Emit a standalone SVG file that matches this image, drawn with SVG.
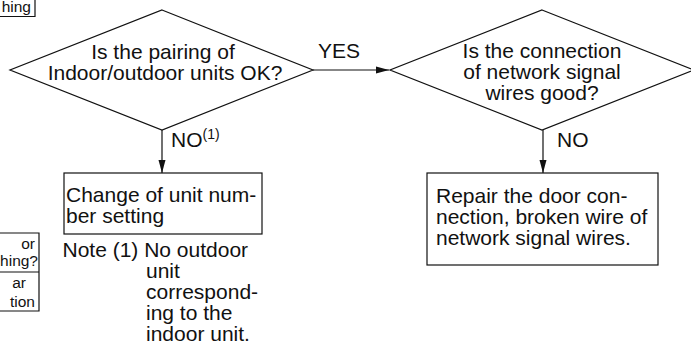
<svg xmlns="http://www.w3.org/2000/svg" width="691" height="349" viewBox="0 0 691 349">
<defs>
<style>
.s{fill:none;stroke:#111;stroke-width:1.2}
.t{font-family:"Liberation Sans",Arial,sans-serif;font-size:21px;fill:#111}
.m{font-family:"Liberation Sans",Arial,sans-serif;font-size:15.5px;fill:#111}
.c{text-anchor:middle}
</style>
<marker id="ah" markerWidth="14" markerHeight="8" refX="13" refY="4" orient="auto" markerUnits="userSpaceOnUse">
<path d="M0,0.5 L13,4 L0,7.5 Z" fill="#111"/>
</marker>
</defs>
<rect width="691" height="349" fill="#fff"/>
<g id="partial-top">
<path class="s" d="M0,16.5 H35 V0"/>
<text class="m" x="31" y="12" text-anchor="end">hing</text>
</g>
<g id="partial-bottom">
<path class="s" d="M0,233 H39 V311 H0 M0,272 H39"/>
<text class="m" x="35" y="249" text-anchor="end">or</text>
<text class="m" x="38" y="266" text-anchor="end">hing?</text>
<text class="m" x="26" y="288" text-anchor="end">ar</text>
<text class="m" x="35" y="307" text-anchor="end">tion</text>
</g>
<g id="connectors">
<line class="s" x1="313" y1="70" x2="389" y2="70" marker-end="url(#ah)"/>
<line class="s" x1="162" y1="130" x2="162" y2="173" marker-end="url(#ah)"/>
<line class="s" x1="543" y1="130" x2="543" y2="173" marker-end="url(#ah)"/>
<text class="t" x="318" y="58">YES</text>
<text class="t" x="171" y="147">NO<tspan font-size="14" dy="-8">(1)</tspan></text>
<text class="t" x="557" y="147">NO</text>
</g>
<g id="d1">
<polygon class="s" points="162,10 313,70 162,130 10,70"/>
<text class="t c" x="163" y="59">Is the pairing of</text>
<text class="t c" x="165" y="80">Indoor/outdoor units OK?</text>
</g>
<g id="d2">
<polygon class="s" points="542,10 694,70 542,130 390,70"/>
<text class="t c" x="542" y="58">Is the connection</text>
<text class="t c" x="542" y="79">of network signal</text>
<text class="t c" x="542" y="100">wires good?</text>
</g>
<g id="b1">
<rect class="s" x="64" y="173" width="198" height="61"/>
<text class="t" x="66" y="202">Change of unit num-</text>
<text class="t" x="66" y="223">ber setting</text>
</g>
<g id="note">
<text class="t" x="62.5" y="257">Note (1) No outdoor</text>
<text class="t" x="146" y="278">unit</text>
<text class="t" x="146" y="299">correspond-</text>
<text class="t" x="146" y="320">ing to the</text>
<text class="t" x="146" y="341">indoor unit.</text>
</g>
<g id="b2">
<rect class="s" x="427" y="173" width="231" height="92"/>
<text class="t" x="436" y="203">Repair the door con-</text>
<text class="t" x="436" y="224">nection, broken wire of</text>
<text class="t" x="436" y="245">network signal wires.</text>
</g>
</svg>
